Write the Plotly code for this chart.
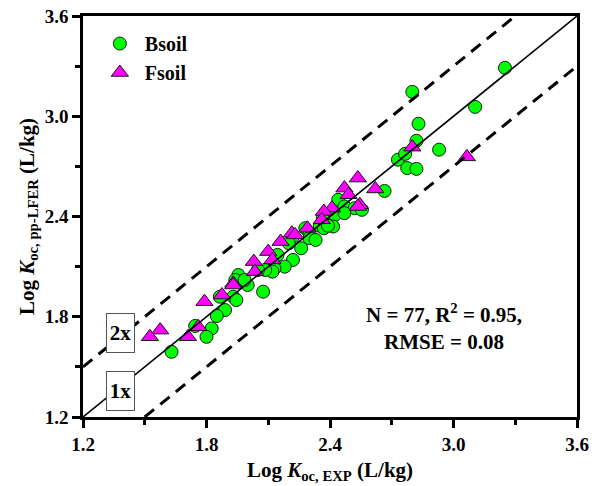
import plotly.graph_objects as go

# Experimental vs. pp-LFER predicted log Koc values
bsoil_exp = [3.25, 3.105, 2.80, 2.83, 2.82, 2.93, 2.73, 2.765, 2.775, 2.82,
             2.665, 2.44, 2.47, 2.52, 2.555, 2.425, 2.365, 2.415, 2.35, 2.28,
             2.30, 2.37, 2.39, 2.22, 2.30, 2.26, 2.22, 2.18, 2.13, 2.145,
             2.12, 2.085, 2.05, 1.955, 2.00, 2.075, 1.94, 1.865, 1.93, 1.945,
             1.89, 1.85, 1.745, 1.825, 1.80, 1.63, 1.985, 2.20, 2.47, 2.33]
bsoil_pred = [3.29, 3.056, 3.146, 2.955, 2.853, 2.80, 2.74, 2.775, 2.69, 2.685,
              2.553, 2.50, 2.46, 2.45, 2.44, 2.41, 2.39, 2.34, 2.345, 2.33,
              2.30, 2.33, 2.345, 2.28, 2.27, 2.21, 2.14, 2.10, 2.09, 2.17,
              2.07, 2.08, 2.08, 2.05, 1.99, 1.95, 2.02, 1.92, 1.92, 1.90,
              1.84, 1.805, 1.745, 1.73, 1.68, 1.59, 2.02, 2.24, 2.42, 2.26]

fsoil_exp = [3.065, 2.80, 2.535, 2.47, 2.62, 2.49, 2.545, 2.535, 2.41, 2.37,
             2.36, 2.29, 2.215, 2.23, 2.16, 2.10, 2.12, 2.03, 2.035, 1.93,
             1.875, 1.79, 1.93, 1.76, 1.71, 1.575, 1.525]
fsoil_pred = [2.757, 2.815, 2.63, 2.57, 2.565, 2.53, 2.47, 2.46, 2.45, 2.43,
              2.38, 2.33, 2.30, 2.29, 2.25, 2.19, 2.14, 2.13, 2.07, 2.00,
              1.93, 1.89, 1.99, 1.74, 1.68, 1.72, 1.68]

axis_range = [1.2, 3.6]
tick_vals = [1.2, 1.8, 2.4, 3.0, 3.6]
tick_text = ["1.2", "1.8", "2.4", "3.0", "3.6"]
minor_vals = [1.5, 2.1, 2.7, 3.3]

# 1:1 line and the factor-of-two band (log10 2 ~ 0.3)
one_to_one = [1.2, 3.6]
upper_x = [1.2, 3.3]
lower_x = [1.5, 3.6]
band = 0.3

FONT = "Liberation Serif"

fig = go.Figure()

fig.add_trace(go.Scatter(
    x=bsoil_exp, y=bsoil_pred, mode="markers", name="<b>Bsoil</b>",
    marker=dict(symbol="circle", size=13, color="#00FF00",
                line=dict(color="#1a1a1a", width=1)),
))
fig.add_trace(go.Scatter(
    x=fsoil_exp, y=fsoil_pred, mode="markers", name="<b>Fsoil</b>",
    marker=dict(symbol="triangle-up", size=15, color="#FF00FF",
                line=dict(color="#1a1a1a", width=1)),
))

fig.add_trace(go.Scatter(
    x=one_to_one, y=one_to_one, mode="lines", showlegend=False,
    line=dict(color="black", width=1.6),
))
fig.add_trace(go.Scatter(
    x=upper_x, y=[v + band for v in upper_x], mode="lines", showlegend=False,
    line=dict(color="black", width=3, dash="12px,8px"),
))
fig.add_trace(go.Scatter(
    x=lower_x, y=[v - band for v in lower_x], mode="lines", showlegend=False,
    line=dict(color="black", width=3, dash="12px,8px"),
))

axis_common = dict(
    range=axis_range, tickvals=tick_vals, ticktext=tick_text,
    showline=True, linecolor="black", linewidth=2.5, mirror=True,
    ticks="outside", ticklen=8, tickwidth=2.5, tickcolor="black",
    minor=dict(tickvals=minor_vals, ticks="outside", ticklen=5,
               tickwidth=2.5, tickcolor="black"),
    showgrid=False, zeroline=False, automargin=False,
    tickfont=dict(family=FONT, size=19, color="black", weight="bold"),
)

fig.update_xaxes(
    **axis_common,
    title=dict(text="<b>Log <i>K</i><sub>oc, EXP</sub> (L/kg)</b>",
               font=dict(family=FONT, size=21, color="black"), standoff=9),
)
fig.update_yaxes(
    **axis_common,
    title=dict(text="<b>Log <i>K</i><sub>oc, pp-LFER</sub> (L/kg)</b>",
               font=dict(family=FONT, size=21, color="black"), standoff=5),
)

fig.add_annotation(
    x=2.954, y=1.74, xref="x", yref="y", showarrow=False,
    text="<b>N = 77, R<sup>2</sup> = 0.95,<br>RMSE = 0.08</b>",
    font=dict(family=FONT, size=21, color="black"), align="center",
)
for label, yv in (("2x", 1.703), ("1x", 1.353)):
    fig.add_annotation(
        x=1.382, y=yv, xref="x", yref="y", showarrow=False,
        text=f"<b>{label}</b>", width=25, height=36,
        font=dict(family=FONT, size=21, color="black"),
        bordercolor="#555555", borderwidth=1, bgcolor="white",
    )

fig.update_layout(
    width=600, height=486,
    margin=dict(l=83, r=23, t=16, b=69, autoexpand=False),
    plot_bgcolor="white", paper_bgcolor="white",
    legend=dict(x=0.024, y=0.98, xanchor="left", yanchor="top",
                bgcolor="rgba(0,0,0,0)", itemwidth=40,
                font=dict(family=FONT, size=20, color="black"),
                tracegroupgap=0, itemsizing="trace"),
)

fig.write_html("out.html")
